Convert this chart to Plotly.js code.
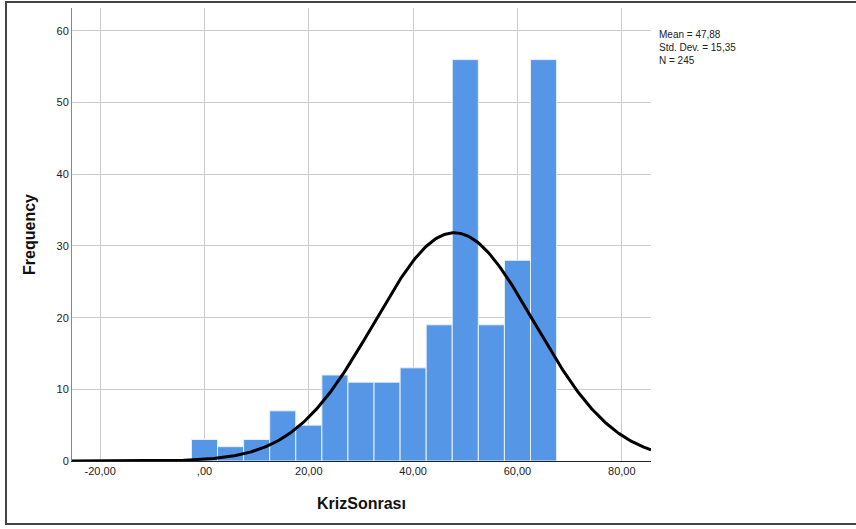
<!DOCTYPE html>
<html>
<head>
<meta charset="utf-8">
<script src="https://cdn.plot.ly/plotly-3.0.1.min.js"></script>
<style>
  html, body { margin: 0; padding: 0; background: #fff; }
  #wrap { position: relative; width: 856px; height: 529px; overflow: hidden; }
  #chart { position: absolute; left: 0; top: 0; width: 856px; height: 529px; }
  #frame { position: absolute; left: 5px; top: 1px; width: 900px; height: 524px;
           border-top: 2px solid #444; border-left: 2px solid #444; border-bottom: 2px solid #444;
           box-sizing: border-box; pointer-events: none; }
</style>
</head>
<body>
<div id="wrap">
  <div id="chart"></div>
  <div id="frame"></div>
</div>
<script>
// Histogram data (bin centers, width 5)
const binCenters = [0, 5, 10, 15, 20, 25, 30, 35, 40, 45, 50, 55, 60, 65];
const binCounts  = [3, 2, 3, 7, 5, 12, 11, 11, 13, 19, 56, 19, 28, 56];
const binWidth = 5;
const meanVal = 47.88;
const sdVal = 15.35;
const nVal = 245;
const xTickVals = [-20, 0, 20, 40, 60, 80];
const xTickText = ['-20,00', ',00', '20,00', '40,00', '60,00', '80,00'];
const yTickVals = [0, 10, 20, 30, 40, 50, 60];

const xRange = [-25.4, 85.6];
const yRange = [0, 63.2];

// Normal curve fitted from stated mean / SD / N
const curveX = [], curveY = [];
for (let i = 0; i <= 400; i++) {
  const x = xRange[0] + (xRange[1] - xRange[0]) * i / 400;
  const z = (x - meanVal) / sdVal;
  curveX.push(x);
  curveY.push(nVal * binWidth / (sdVal * Math.sqrt(2 * Math.PI)) * Math.exp(-0.5 * z * z));
}

const traces = [
  {
    type: 'bar', x: binCenters, y: binCounts, width: binWidth,
    marker: { color: '#5596e6', line: { color: '#e8f0fa', width: 1 } },
    hoverinfo: 'x+y', showlegend: false
  },
  {
    type: 'scatter', mode: 'lines', x: curveX, y: curveY,
    line: { color: '#000', width: 3 }, hoverinfo: 'skip', showlegend: false, cliponaxis: true
  }
];

const layout = {
  width: 856, height: 529,
  margin: { l: 72, r: 205, t: 8, b: 68 },
  paper_bgcolor: '#fff', plot_bgcolor: '#fff',
  font: { family: 'Liberation Sans, Arial, sans-serif', color: '#222', size: 11 },
  bargap: 0,
  xaxis: {
    range: xRange, tickvals: xTickVals, ticktext: xTickText,
    showgrid: true, gridcolor: '#cccccc', gridwidth: 1,
    zeroline: false, showline: true, linecolor: '#222', linewidth: 1,
    ticks: '', ticklen: 0, tickfont: { size: 11, color: '#222' },
    title: { text: 'KrizSonrası', font: { size: 16, color: '#111', family: 'Liberation Sans, Arial, sans-serif', weight: 'bold' }, standoff: 21 }
  },
  yaxis: {
    range: yRange, tickvals: yTickVals,
    showgrid: true, gridcolor: '#cccccc', gridwidth: 1,
    zeroline: false, showline: true, linecolor: '#888', linewidth: 1,
    ticks: '', tickfont: { size: 11, color: '#222' },
    title: { text: 'Frequency', font: { size: 16, color: '#111', family: 'Liberation Sans, Arial, sans-serif', weight: 'bold' }, standoff: 16 }
  },
  annotations: [
    {
      xref: 'paper', yref: 'paper', x: 1.01, y: 0.957, xanchor: 'left', yanchor: 'top',
      align: 'left', showarrow: false,
      text: 'Mean = 47,88<br>Std. Dev. = 15,35<br>N = 245',
      font: { size: 10, color: '#222' }
    }
  ]
};

Plotly.newPlot('chart', traces, layout, { displayModeBar: false, staticPlot: true });
</script>
</body>
</html>
